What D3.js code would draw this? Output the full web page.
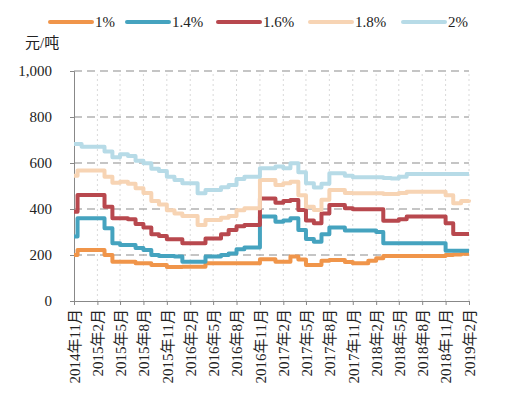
<!DOCTYPE html>
<html>
<head>
<meta charset="utf-8">
<script src="https://cdn.jsdelivr.net/npm/d3@7"></script>
<style>
  html, body { margin: 0; padding: 0; background: #fff; }
  svg text { font-family: "Liberation Serif", "Noto Sans CJK SC", serif; fill: #222; }
</style>
</head>
<body>
<div id="chart"></div>
<script>
// sample dates (month starts, one extra half-month point at the start)
const dates = [
  '2014-11-01', '2014-11-15', '2014-12-01',
  '2015-01-01', '2015-02-01', '2015-03-01', '2015-04-01', '2015-05-01', '2015-06-01',
  '2015-07-01', '2015-08-01', '2015-09-01', '2015-10-01', '2015-11-01', '2015-12-01',
  '2016-01-01', '2016-02-01', '2016-03-01', '2016-04-01', '2016-05-01', '2016-06-01',
  '2016-07-01', '2016-08-01', '2016-09-01', '2016-10-01', '2016-11-01', '2016-12-01',
  '2017-01-01', '2017-02-01', '2017-03-01', '2017-04-01', '2017-05-01', '2017-06-01',
  '2017-07-01', '2017-08-01', '2017-09-01', '2017-10-01', '2017-11-01', '2017-12-01',
  '2018-01-01', '2018-02-01', '2018-03-01', '2018-04-01', '2018-05-01', '2018-06-01',
  '2018-07-01', '2018-08-01', '2018-09-01', '2018-10-01', '2018-11-01', '2018-12-01',
  '2019-01-01', '2019-02-01'
];

const s1 = [200, 222, 222, 222, 222, 200, 171, 171, 171, 164, 164, 157, 157, 148, 148,
  149, 149, 149, 164, 164, 164, 164, 164, 164, 164, 181, 181, 171, 171, 193, 180, 157, 157,
  175, 178, 178, 170, 164, 164, 175, 186, 196, 196, 196, 196, 196, 196, 196, 196, 200, 202,
  205, 205];
const s14 = [280, 360, 360, 360, 360, 316, 251, 243, 243, 230, 222, 200, 196, 196, 193,
  171, 171, 171, 193, 193, 200, 207, 225, 233, 233, 367, 367, 345, 350, 360, 309, 270, 258,
  290, 320, 320, 306, 306, 306, 306, 300, 251, 251, 251, 251, 251, 251, 251, 251, 219, 219,
  219, 219];
const s16 = [388, 461, 461, 461, 461, 410, 360, 360, 355, 335, 320, 290, 283, 268, 268,
  251, 251, 251, 272, 272, 290, 309, 325, 330, 330, 446, 446, 427, 435, 439, 396, 350, 338,
  380, 417, 417, 403, 399, 399, 399, 399, 349, 349, 355, 367, 367, 367, 367, 367, 338, 291,
  291, 291];
const s18 = [545, 567, 567, 567, 567, 540, 514, 519, 510, 490, 470, 435, 420, 395, 380,
  370, 370, 330, 352, 352, 362, 370, 395, 403, 403, 526, 526, 504, 512, 519, 460, 410, 396,
  440, 483, 483, 470, 468, 468, 468, 468, 465, 465, 470, 475, 475, 475, 475, 475, 460, 425,
  435, 440];
const s2 = [683, 683, 671, 671, 671, 650, 625, 638, 630, 610, 599, 575, 565, 540, 526,
  512, 512, 468, 483, 483, 495, 504, 530, 540, 540, 577, 577, 585, 577, 599, 560, 512, 494,
  510, 555, 555, 545, 538, 538, 538, 538, 535, 533, 540, 552, 552, 552, 552, 552, 552, 552,
  552, 552];

const seriesNames = ['1%', '1.4%', '1.6%', '1.8%', '2%'];
const seriesValues = [s1, s14, s16, s18, s2];
const colors = ['#f0954a', '#45a3bf', '#b8484e', '#f7d4b4', '#b7dbe7'];

const yTicks = [0, 200, 400, 600, 800, 1000];
const xTickDates = [
  '2014-11-01', '2015-02-01', '2015-05-01', '2015-08-01', '2015-11-01', '2016-02-01',
  '2016-05-01', '2016-08-01', '2016-11-01', '2017-02-01', '2017-05-01', '2017-08-01',
  '2017-11-01', '2018-02-01', '2018-05-01', '2018-08-01', '2018-11-01', '2019-02-01'
];

const width = 518, height = 399;
const margin = { top: 71, right: 49, bottom: 98, left: 74 };
const parse = d3.timeParse('%Y-%m-%d');

const svg = d3.select('#chart').append('svg')
  .attr('width', width)
  .attr('height', height);

const x = d3.scaleTime()
  .domain([parse(dates[0]), parse(dates[dates.length - 1])])
  .range([margin.left, width - margin.right]);

const y = d3.scaleLinear()
  .domain([0, 1000])
  .range([height - margin.bottom, margin.top]);

// vertical dotted grid
svg.append('g')
  .selectAll('line')
  .data(xTickDates.slice(1))
  .join('line')
  .attr('x1', d => x(parse(d))).attr('x2', d => x(parse(d)))
  .attr('y1', y(0)).attr('y2', y(1000))
  .attr('stroke', '#d9d9d9')
  .attr('stroke-width', 1)
  .attr('stroke-dasharray', '2,3');

// horizontal dashed grid
svg.append('g')
  .selectAll('line')
  .data(yTicks.slice(1))
  .join('line')
  .attr('x1', margin.left).attr('x2', width - margin.right)
  .attr('y1', d => y(d)).attr('y2', d => y(d))
  .attr('stroke', '#8c8c8c')
  .attr('stroke-width', 1.2)
  .attr('stroke-dasharray', '8,5');

// Y axis
const yAxis = svg.append('g')
  .attr('transform', `translate(${margin.left},0)`)
  .call(d3.axisLeft(y).tickValues(yTicks).tickFormat(d3.format(',')).tickSize(4).tickPadding(18));
yAxis.select('.domain').attr('stroke', '#888');
yAxis.selectAll('.tick line').attr('stroke', '#888');
yAxis.selectAll('text').attr('font-size', 15).attr('fill', '#222');

// X axis
const xAxis = svg.append('g')
  .attr('transform', `translate(0,${y(0)})`)
  .call(d3.axisBottom(x).tickValues(xTickDates.map(parse)).tickSize(4)
    .tickFormat(d => `${d.getFullYear()}年${d.getMonth() + 1}月`));
xAxis.select('.domain').attr('stroke', '#888');
xAxis.selectAll('.tick line').attr('stroke', '#888');
xAxis.selectAll('text')
  .attr('font-size', 15)
  .attr('fill', '#222')
  .attr('text-anchor', 'end')
  .attr('dy', '0.35em')
  .attr('x', -8)
  .attr('y', 0)
  .attr('transform', 'rotate(-90)');

// lines
const line = d3.line()
  .x((d, i) => x(parse(dates[i])))
  .y(d => y(d))
  .curve(d3.curveStepAfter);

svg.append('g')
  .selectAll('path')
  .data(seriesValues)
  .join('path')
  .attr('d', d => line(d))
  .attr('fill', 'none')
  .attr('stroke', (d, i) => colors[i])
  .attr('stroke-width', 4)
  .attr('stroke-linejoin', 'round');

// unit label
svg.append('text')
  .attr('x', 25).attr('y', 48)
  .attr('font-size', 15)
  .text('元/吨');

// legend
const legendX = [50, 127, 218, 310, 403];
const legend = svg.append('g')
  .selectAll('g')
  .data(seriesNames)
  .join('g')
  .attr('transform', (d, i) => `translate(${legendX[i]},22)`);
legend.append('line')
  .attr('x1', 0).attr('x2', 42)
  .attr('stroke', (d, i) => colors[i])
  .attr('stroke-width', 4)
  .attr('stroke-linecap', 'round');
legend.append('text')
  .attr('x', 45).attr('y', 5)
  .attr('font-size', 15)
  .text(d => d);
</script>
</body>
</html>
